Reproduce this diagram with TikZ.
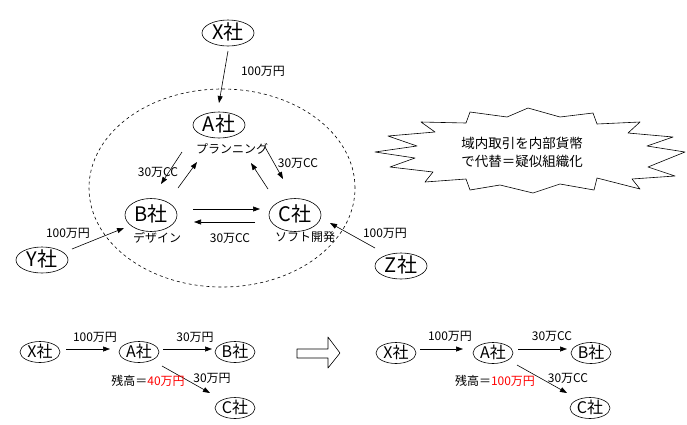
\documentclass[tikz,border=0pt]{standalone}
\usepackage{fontspec}
\setmainfont{Noto Sans CJK JP}
\usetikzlibrary{shapes.geometric,arrows.meta,calc}
\begin{document}
\begin{tikzpicture}[x=1pt,y=-1pt,>={Triangle[length=7pt,width=5pt]},line join=round,line width=0.6pt,
	co/.style={draw,ellipse,inner sep=0pt,font=\fontsize{20}{20}\selectfont,text height=13pt,text depth=1pt,minimum width=52pt,minimum height=26pt},
	tall/.style={co,minimum height=33pt},
	co2/.style={draw,ellipse,inner sep=0pt,font=\fontsize{16}{16}\selectfont,text height=11pt,text depth=1pt,minimum width=40pt,minimum height=21pt},
	lbl/.style={font=\fontsize{12}{12}\selectfont,inner sep=0pt}]
	\useasboundingbox (0,0) rectangle (687,424);
	% upper diagram
	\node[co] (X) at (228,33) {X社};
	\node[co] (A) at (219,125) {A社};
	\node[tall] (B) at (151,215) {B社};
	\node[tall] (C) at (295,215) {C社};
	\node[co] (Y) at (42,260) {Y社};
	\node[co] (Z) at (401,266) {Z社};
	\draw[dashed] (222,188) ellipse [x radius=133pt,y radius=99pt];
	\node[lbl] (pl) at (232,149) {プランニング};
	\node[lbl] (de) at (157,238) {デザイン};
	\node[lbl] (so) at (305,237) {ソフト開発};
	\draw[->] ($(X)+(0,18)$) -- ($(A)+(0,-22)$);
	\node[lbl] (xa) at (263,71) {100万円};
	\draw[->] ($(A)+(-37,27)$) -- ($(B)+(10,-31)$);
	\draw[->] ($(B)+(27,-27)$) -- ($(A)+(-22,37)$);
	\node[lbl] (ab) at (158,172) {30万CC};
	\draw[->] ($(A)+(46,22)$) -- ($(C)+(-12,-36)$);
	\draw[->] ($(C)+(-27,-26)$) -- ($(A)+(32,38)$);
	\node[lbl] (ac) at (298,163) {30万CC};
	\draw[->] ($(B)+(42,-6)$) -- ($(C)+(-35,-6)$);
	\draw[->] ($(C)+(-40,7)$) -- ($(B)+(43,7)$);
	\node[lbl] (bc) at (230,238) {30万CC};
	\draw[->] ($(Y)+(30,-11)$) -- ($(B)+(-27,13)$);
	\node[lbl] (yb) at (68,233) {100万円};
	\draw[->] ($(Z)+(-26,-18)$) -- ($(C)+(35,8)$);
	\node[lbl] (zc) at (385,233) {100万円};
	% burst
	\draw (421,122) -- (466,123) -- (470,112) -- (507,117) -- (528,108) -- (560,117) -- (593,113) -- (597,124) -- (640,122) -- (628,133) -- (673,137) -- (647,146) -- (685,152) -- (648,167) -- (675,176) -- (632,179) -- (640,189) -- (597,178) -- (594,190) -- (560,184) -- (533,193) -- (500,185) -- (470,190) -- (466,179) -- (425,182) -- (433,172) -- (390,167) -- (415,158) -- (375,152) -- (417,146) -- (388,136) -- (435,132) -- cycle;
	\node[font=\fontsize{13.5}{18}\selectfont,align=center] (msg) at (522,152) {域内取引を内部貨幣\\で代替＝疑似組織化};
	% lower left
	\node[co2] (X1) at (40,352) {X社};
	\node[co2] (A1) at (139,352) {A社};
	\node[co2] (B1) at (235,352) {B社};
	\node[co2] (C1) at (235,408) {C社};
	\draw[->] ($(X1)+(26,-3)$) -- ($(A1)+(-29,-3)$);
	\draw[->] ($(A1)+(24,-3)$) -- ($(B1)+(-23,-3)$);
	\draw[->] ($(A1)+(23,14)$) -- ($(C1)+(-25,-15)$);
	\node[lbl] (xa1) at (95,337) {100万円};
	\node[lbl] (ab1) at (195,337) {30万円};
	\node[lbl] (ac1) at (212,378) {30万円};
	\node[lbl] (r1) at (148,381) {残高＝\textcolor{red}{40万円}};
	% hollow arrow
	\draw (297,349) -- (328,349) -- (328,337) -- (340,353) -- (328,368) -- (328,358) -- (297,358) -- cycle;
	% lower right
	\node[co2] (X2) at (396,353) {X社};
	\node[co2] (A2) at (493,353) {A社};
	\node[co2] (B2) at (591,353) {B社};
	\node[co2] (C2) at (590,408) {C社};
	\draw[->] ($(X2)+(24,-4)$) -- ($(A2)+(-30,-4)$);
	\draw[->] ($(A2)+(25,-4)$) -- ($(B2)+(-24,-4)$);
	\draw[->] ($(A2)+(24,12)$) -- ($(C2)+(-23,-15)$);
	\node[lbl] (xa2) at (450,336) {100万円};
	\node[lbl] (ab2) at (552,336) {30万CC};
	\node[lbl] (ac2) at (568,378) {30万CC};
	\node[lbl] (r2) at (495,381) {残高＝\textcolor{red}{100万円}};
\end{tikzpicture}
\end{document}
